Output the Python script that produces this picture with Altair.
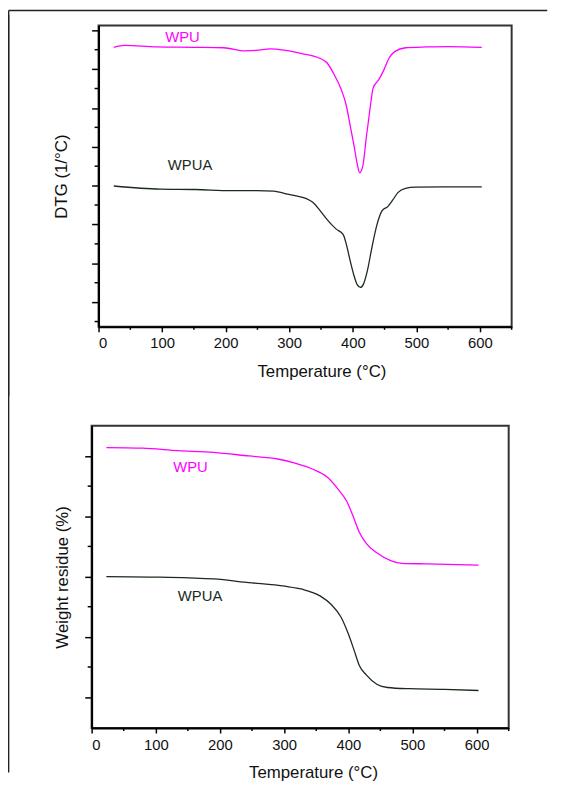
import altair as alt
import pandas as pd

# ---------------- data ----------------
# Top panel: DTG curves
dtg_wpu_T = [24, 41, 91, 150, 197, 231, 248, 270, 292, 320, 348, 360, 371, 382, 390,
             396, 402, 407, 411, 416, 421, 427, 432, 441, 449, 457, 466, 483, 516, 550, 603]
dtg_wpu_v = [6.56, 6.61, 6.57, 6.56, 6.55, 6.47, 6.48, 6.52, 6.49, 6.40, 6.28, 6.15, 5.85, 5.47, 5.05,
             4.54, 4.03, 3.56, 3.33, 3.52, 4.20, 4.96, 5.51, 5.73, 5.98, 6.28, 6.45, 6.55, 6.57, 6.58, 6.56]
dtg_wpua_T = [24, 97, 153, 209, 248, 276, 292, 309, 326, 337, 348, 360, 374, 385, 390,
              396, 402, 407, 412, 417, 423, 430, 438, 446, 455, 463, 471, 483, 499, 544, 603]
dtg_wpua_v = [2.99, 2.91, 2.90, 2.87, 2.87, 2.86, 2.80, 2.74, 2.67, 2.57, 2.37, 2.12, 1.88, 1.74, 1.48,
              1.06, 0.68, 0.45, 0.38, 0.47, 0.81, 1.40, 1.99, 2.35, 2.46, 2.63, 2.82, 2.93, 2.96, 2.97, 2.97]

# Bottom panel: weight residue curves
tga_wpu_T = [23, 79, 134, 190, 245, 290, 317, 345, 367, 384, 398, 409, 417, 428, 445, 467, 484, 522, 603]
tga_wpu_v = [4.14, 4.13, 4.09, 4.06, 4.00, 3.95, 3.88, 3.78, 3.65, 3.45, 3.24, 2.96, 2.74, 2.55,
             2.39, 2.26, 2.22, 2.21, 2.19]
tga_wpua_T = [23, 106, 190, 245, 301, 328, 356, 373, 389, 400, 409, 417, 428, 445, 461, 495, 550, 603]
tga_wpua_v = [2.00, 1.99, 1.96, 1.90, 1.84, 1.79, 1.68, 1.54, 1.32, 1.05, 0.78, 0.53, 0.37, 0.21,
              0.16, 0.14, 0.13, 0.11]

series_names = ["WPU", "WPUA"]

# curve labels
dtg_label_T = [132, 144]
dtg_label_v = [6.70, 3.39]
tga_label_T = [154, 169]
tga_label_v = [3.73, 1.60]

# ticks
x_major = [0, 100, 200, 300, 400, 500, 600]
x_minor = [50, 150, 250, 350, 450, 550, 650]
dtg_major = [0, 1, 2, 3, 4, 5, 6, 7]
dtg_minor = [-0.5, 0.5, 1.5, 2.5, 3.5, 4.5, 5.5, 6.5]
tga_major = [0, 1, 2, 3, 4]
tga_minor = [0.5, 1.5, 2.5, 3.5]

FONT = "Liberation Sans"
MAG = "#ff00ff"
DARK = "#1b2a1b"
FRAME = "#222222"


def panel(curves, lab_T, lab_v, ydom, ymaj, ymin, w, h, ytitle,
          ytitle_x, xtitle_x, xtitle_y, label_pad, frame_x, frame_top, frame_bot,
          hline_y, hline_x1, hline_x2, hline_color):
    xs = alt.Scale(domain=[0, 650], nice=False, zero=False)
    ys = alt.Scale(domain=ydom, nice=False, zero=False)
    col = alt.Color("s:N", scale=alt.Scale(domain=series_names, range=[MAG, DARK]), legend=None)

    df = pd.concat([pd.DataFrame({"T": t, "v": v, "s": name})
                    for name, (t, v) in zip(series_names, curves)])

    lines = alt.Chart(df).mark_line(strokeWidth=1.3, interpolate="monotone").encode(
        x=alt.X("T:Q", scale=xs,
                axis=alt.Axis(values=x_major, title="Temperature (°C)", tickSize=5,
                              labelPadding=label_pad, titleX=xtitle_x, titleY=xtitle_y,
                              titleAlign="center", titleBaseline="alphabetic")),
        y=alt.Y("v:Q", scale=ys,
                axis=alt.Axis(values=ymaj, labels=False, title=ytitle, tickSize=7,
                              titleX=ytitle_x, titleY=h / 2, titleAngle=270,
                              titleAlign="center", titleBaseline="middle")),
        color=col,
    )

    labels = alt.Chart(pd.DataFrame({"T": lab_T, "v": lab_v, "s": series_names})).mark_text(
        font=FONT, fontSize=15, align="center", baseline="alphabetic"
    ).encode(x=alt.X("T:Q", scale=xs), y=alt.Y("v:Q", scale=ys), text="s:N", color=col)

    yminor = alt.Chart(pd.DataFrame({"v": ymin})).mark_rule(color="black", strokeWidth=1.5).encode(
        y=alt.Y("v:Q", scale=ys), x=alt.value(-4), x2=alt.value(0))
    xminor = alt.Chart(pd.DataFrame({"T": x_minor})).mark_rule(color="black", strokeWidth=1.5).encode(
        x=alt.X("T:Q", scale=xs), y=alt.value(h), y2=alt.value(h + 3))

    one = pd.DataFrame({"a": [0]})
    vline = alt.Chart(one).mark_rule(color=FRAME, strokeWidth=1.5).encode(
        x=alt.value(frame_x), y=alt.value(frame_top), y2=alt.value(frame_bot))
    hline = alt.Chart(one).mark_rule(color=hline_color, strokeWidth=1.5).encode(
        x=alt.value(hline_x1), x2=alt.value(hline_x2), y=alt.value(hline_y))
    return alt.layer(lines, labels, yminor, xminor, vline, hline).properties(width=w, height=h)


top = panel([(dtg_wpu_T, dtg_wpu_v), (dtg_wpua_T, dtg_wpua_v)], dtg_label_T, dtg_label_v,
            [-0.636, 7.125], dtg_major, dtg_minor, 418, 305, "DTG (1/°C)",
            -37, 225.5, 50, 4, -91, -15, 375, -15, -91, 454, FRAME)
bottom = panel([(tga_wpu_T, tga_wpu_v), (tga_wpua_T, tga_wpua_v)], tga_label_T, tga_label_v,
               [-0.513, 4.503], tga_major, tga_minor, 422, 306, "Weight residue (%)",
               -29, 224, 50, 5, -84, -416, 351, -36, 430, 468, "#ffffff")

chart = alt.concat(top, bottom, columns=1, center=True, spacing=-390, bounds="full").properties(
    padding={"left": -1.5, "top": -4, "right": 0, "bottom": 0}
).configure_view(stroke="#333333", strokeWidth=2).configure_axis(
    domainColor="black", domainWidth=2, tickColor="black", tickWidth=1.5, grid=False,
    labelFont=FONT, labelFontSize=15, labelColor="#111111",
    titleFont=FONT, titleFontSize=17, titleFontWeight="normal", titleColor="#111111",
)

chart.save("out.html", embed_options={"renderer": "svg", "actions": False})
